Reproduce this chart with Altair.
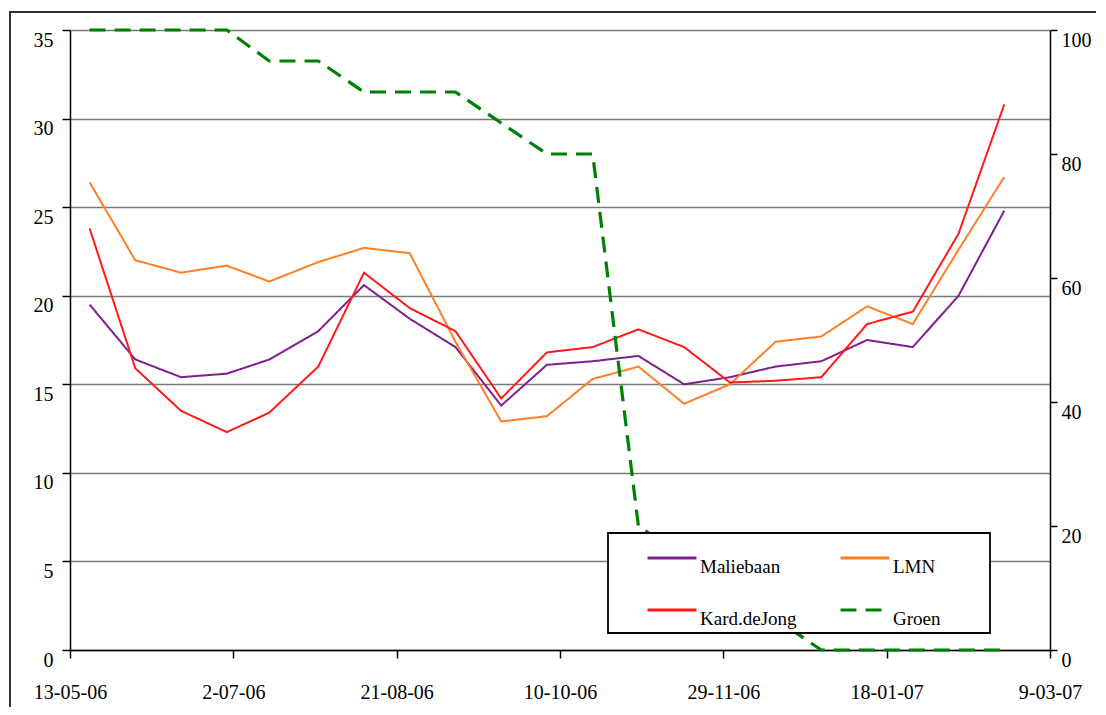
import altair as alt
import pandas as pd

# ---- data ----
dates = ["2006-05-19", "2006-06-02", "2006-06-16", "2006-06-30", "2006-07-13",
         "2006-07-28", "2006-08-11", "2006-08-25", "2006-09-08", "2006-09-22",
         "2006-10-06", "2006-10-20", "2006-11-03", "2006-11-17", "2006-12-01",
         "2006-12-15", "2006-12-29", "2007-01-12", "2007-01-26", "2007-02-09",
         "2007-02-23"]
maliebaan = [19.5, 16.4, 15.4, 15.6, 16.4, 18.0, 20.6, 18.7, 17.1, 13.8, 16.1,
             16.3, 16.6, 15.0, 15.4, 16.0, 16.3, 17.5, 17.1, 20.0, 24.8]
lmn = [26.4, 22.0, 21.3, 21.7, 20.8, 21.9, 22.7, 22.4, 17.4, 12.9, 13.2,
       15.3, 16.0, 13.9, 15.0, 17.4, 17.7, 19.4, 18.4, 22.6, 26.7]
kard = [23.8, 15.9, 13.5, 12.3, 13.4, 16.0, 21.3, 19.3, 18.0, 14.2, 16.8,
        17.1, 18.1, 17.1, 15.1, 15.2, 15.4, 18.4, 19.1, 23.5, 30.8]
groen = [100, 100, 100, 100, 95, 95, 90, 90, 90, 85, 80,
         80, 20, 15, 10, 5, 0, 0, 0, 0, 0]

series_names = ["Maliebaan", "LMN", "Kard.deJong", "Groen"]
series_colors = ["#7F1F8F", "#FF7F27", "#FF1A1A", "#008000"]
series_dash = [[1, 0], [1, 0], [1, 0], [16, 9]]

x_ticks = [(2006, 5, 13), (2006, 7, 2), (2006, 8, 21), (2006, 10, 10),
           (2006, 11, 29), (2007, 1, 18), (2007, 3, 9)]
left_ticks = [0, 5, 10, 15, 20, 25, 30, 35]
right_ticks = [0, 20, 40, 60, 80, 100]

rows = []
for name, vals in zip(series_names, [maliebaan, lmn, kard, groen]):
    for d, v in zip(dates, vals):
        rows.append({"date": d, "series": name, "value": v})
df = pd.DataFrame(rows)

FONT = "Liberation Serif"

def dt(t):
    return alt.DateTime(year=t[0], month=t[1], date=t[2], utc=True)

x_enc = alt.X(
    "date:T",
    scale=alt.Scale(type="utc", domain=[dt(x_ticks[0]), dt(x_ticks[-1])]),
    axis=alt.Axis(values=[dt(t) for t in x_ticks], format="%-d-%m-%y",
                  title=None, grid=False, tickSize=8, labelPadding=24,
                  labelFlush=False, labelOverlap=False, domainWidth=1.5,
                  tickWidth=1.5),
)

legend = alt.Legend(
    title=None, orient="none", legendX=576, legendY=502, columns=2,
    direction="horizontal",
    symbolType="stroke", symbolSize=2401, symbolStrokeWidth=2.8,
    labelFont=FONT, labelFontSize=19, labelColor="black",
    labelBaseline="top", labelOffset=2, columnPadding=37, rowPadding=7,
    padding=0,
)

color_enc = alt.Color("series:N",
                      scale=alt.Scale(domain=series_names, range=series_colors),
                      legend=legend)
dash_enc = alt.StrokeDash("series:N",
                          scale=alt.Scale(domain=series_names, range=series_dash),
                          legend=legend)

base = alt.Chart(df)

left_lines = base.transform_filter(alt.datum.series != "Groen").mark_line(
    strokeWidth=2
).encode(
    x=x_enc,
    y=alt.Y("value:Q", scale=alt.Scale(domain=[0, 35], nice=False),
            axis=alt.Axis(values=left_ticks, title=None, grid=True,
                          gridColor="#7a7a7a", gridWidth=1.5, tickSize=8,
                          labelPadding=9, labelOffset=10, domainWidth=1.5,
                          tickWidth=1.5)),
    color=color_enc,
    strokeDash=dash_enc,
    detail="series:N",
)

right_line = base.transform_filter(alt.datum.series == "Groen").mark_line(
    strokeWidth=3.2
).encode(
    x=x_enc,
    y=alt.Y("value:Q", scale=alt.Scale(domain=[0, 100], nice=False),
            axis=alt.Axis(orient="right", values=right_ticks, title=None,
                          grid=False, tickSize=7, labelPadding=4,
                          labelOffset=10, domainWidth=1.5, tickWidth=1.5)),
    color=color_enc,
    strokeDash=dash_enc,
)

one = alt.Data(values=[{"k": 1}])
legend_box = alt.Chart(one).mark_rect(
    fill="white", stroke="black", strokeWidth=1.8
).encode(x=alt.value(538), x2=alt.value(920), y=alt.value(503), y2=alt.value(603))

frame = alt.Chart(one).mark_rect(
    fill=None, stroke="#333333", strokeWidth=2
).encode(x=alt.value(-60), x2=alt.value(1027), y=alt.value(-18), y2=alt.value(700))

chart = alt.layer(left_lines, right_line, legend_box, frame).resolve_scale(
    y="independent"
).properties(
    width=980, height=620,
    autosize=alt.AutoSizeParams(type="none"),
    padding={"left": 62, "top": 22, "right": 46, "bottom": 57},
).configure_view(stroke=None).configure_axis(
    labelFont=FONT, labelFontSize=20, labelColor="black",
    domainColor="black", tickColor="black",
)

chart.save("out.html", embed_options={"renderer": "svg", "actions": False})
